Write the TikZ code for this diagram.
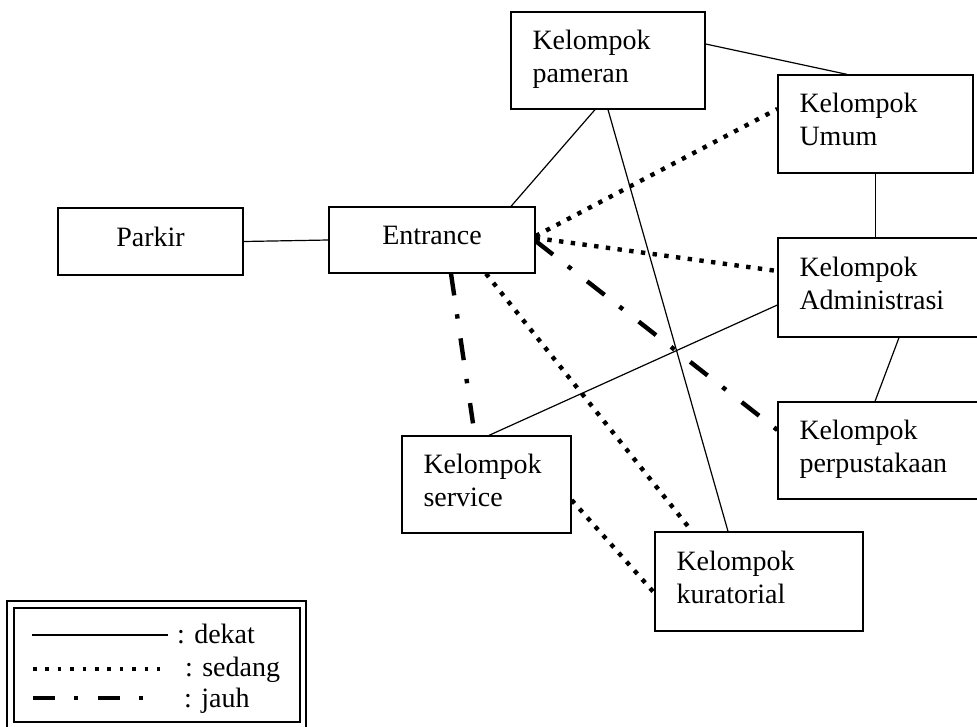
\documentclass[tikz,border=0pt]{standalone}
\usepackage{fontspec}
\setmainfont{Liberation Serif}
\usetikzlibrary{calc}
\begin{document}
\begin{tikzpicture}[x=1pt,y=-1pt,
  box/.style={draw, line width=1.3pt, inner ysep=0pt, font=\fontsize{28}{33}\selectfont},
  kbox/.style={box, align=left, inner xsep=21.5pt, text depth=42pt},
  sbox/.style={box, align=center, text depth=10pt},
  dekat/.style={line width=1.2pt},
  sedang/.style={line width=4.4pt, dash pattern=on 4.4pt off 7.4pt},
  sedangleg/.style={line width=3.6pt, dash pattern=on 3.6pt off 8.8pt},
  jauh/.style={line width=4.4pt, dash pattern=on 22pt off 19pt on 4.4pt off 20pt},
  legtext/.style={anchor=base west, inner sep=0pt, font=\fontsize{28}{33}\selectfont},
]
\useasboundingbox (0,0) rectangle (977,726);

% boxes
\node[sbox, minimum width=185pt, minimum height=67pt] (park) at (150.5,241.5) {Parkir};
\node[sbox, minimum width=206pt, minimum height=66pt] (ent) at (432,240) {Entrance};
\node[kbox, text width=151pt, minimum height=97pt] (pam) at (608,60.5) {Kelompok\\pameran};
\node[kbox, text width=152pt, minimum height=98pt] (umum) at (875.5,124) {Kelompok\\Umum};
\node[kbox, text width=179pt, minimum height=99pt] (adm) at (889,287.5) {Kelompok\\Administrasi};
\node[kbox, text width=179pt, minimum height=97pt] (pus) at (889,450.5) {Kelompok\\perpustakaan};
\node[kbox, text width=126pt, minimum height=97pt] (svc) at (486.5,484.5) {Kelompok\\service};
\node[kbox, text width=165pt, minimum height=99pt] (kur) at (759,581.5) {Kelompok\\kuratorial};

% dekat
\draw[dekat] (park.east) -- (ent.west);
\draw[dekat] ([xshift=79pt]ent.north) -- ([xshift=-13pt]pam.south);
\draw[dekat] ([yshift=16.5pt]pam.east) -- ([xshift=-28.5pt]umum.north);
\draw[dekat] (umum.south) -- (umum.south |- adm.north);
\draw[dekat] ([xshift=10pt]adm.south) -- ([xshift=-14pt]pus.north);
\draw[dekat] (pam.south) -- ([xshift=-31pt]kur.north);
\draw[dekat] ([yshift=-17.5pt]adm.west) -- ([xshift=2.5pt]svc.north);

% sedang
\draw[sedang] ([yshift=4pt]ent.east) -- ([yshift=15pt]umum.west);
\draw[sedang] ([yshift=2pt]ent.east) -- ([yshift=16.5pt]adm.west);
\draw[sedang] ([xshift=54pt]ent.south) -- ([xshift=-67pt]kur.north);
\draw[sedang] ([yshift=-15.5pt]svc.east) -- ([yshift=-11.5pt]kur.west);

% jauh
\draw[jauh] ([yshift=-1pt]ent.east) -- ([yshift=20.5pt]pus.west);
\draw[jauh] ([xshift=19pt]ent.south) -- ([xshift=-13.5pt,yshift=12pt]svc.north);

% legend
\draw[line width=1.2pt] (7,601) rectangle (306,732);
\draw[line width=1.2pt] (14,608) rectangle (300,722);
\coordinate (l1a) at (32,635); \coordinate (l1b) at (168,635);
\coordinate (l2a) at (33,669); \coordinate (l2b) at (160,669);
\coordinate (l3a) at (33,698); \coordinate (l3b) at (143,698);
\draw[dekat] (l1a) -- (l1b);
\draw[sedangleg] (l2a) -- (l2b);
\draw[jauh] (l3a) -- (l3b);
\node[legtext] (tdekat) at (177,643) {: dekat};
\node[legtext] (tsedang) at (185,676) {: sedang};
\node[legtext] (tjauh) at (184,707) {: jauh};
\end{tikzpicture}
\end{document}
